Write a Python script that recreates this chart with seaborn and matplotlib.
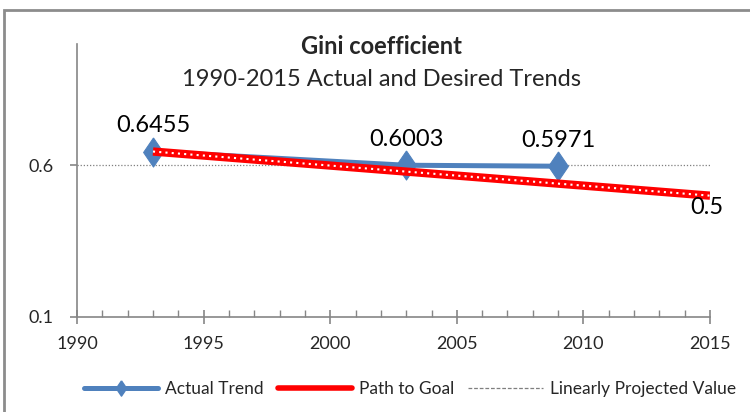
import pandas as pd
import matplotlib
matplotlib.use("Agg")
import matplotlib.pyplot as plt
from matplotlib.lines import Line2D
from matplotlib.patches import Rectangle
import seaborn as sns

# --- Data ---
actual_years = [1993, 2003, 2009]
actual_gini = [0.6455, 0.6003, 0.5971]
goal_years = [1993, 2015]
goal_gini = [0.6455, 0.5]
projected_years = []
projected_gini = []

x_ticks = [1990, 1995, 2000, 2005, 2010, 2015]
y_ticks = [0.1, 0.6]

blue = "#4F81BD"
red = "#FF0000"
axis_gray = "#868686"
# Excel-style tall diamond
diamond = [(0, 1), (0.68, 0), (0, -1), (-0.68, 0), (0, 1)]

sns.set_theme(style="white")
plt.rcParams["font.family"] = ["Lato", "DejaVu Sans"]

fig = plt.figure(figsize=(7.5, 4.12), dpi=100)
ax = fig.add_axes([0.1027, 0.2306, 0.844, 0.6626])

actual_df = pd.DataFrame({"Year": actual_years, "Gini": actual_gini})
goal_df = pd.DataFrame({"Year": goal_years, "Gini": goal_gini})

# gridline at 0.6
ax.axhline(0.6, color="#7f7f7f", lw=0.9, ls=(0, (1, 1.5)), zorder=1)

# path to goal: thick red with white dots
sns.lineplot(data=goal_df, x="Year", y="Gini", ax=ax, color=red, lw=6,
             solid_capstyle="butt", zorder=3)
sns.lineplot(data=goal_df, x="Year", y="Gini", ax=ax, color="white", lw=1.5,
             ls=(0, (1, 2)), zorder=4)
# actual trend
sns.lineplot(data=actual_df, x="Year", y="Gini", ax=ax, color=blue, lw=3.6,
             marker=diamond, markersize=21, markeredgecolor=blue, zorder=2)

# data labels
for x, y in zip(actual_years, actual_gini):
    ax.annotate(f"{y:.4f}", (x, y), xytext=(0, 11), textcoords="offset points",
                ha="center", va="bottom", fontsize=17, color="black")
ax.annotate(f"{goal_gini[-1]:g}", (goal_years[-1], goal_gini[-1]), xytext=(-2, -1),
            textcoords="offset points", ha="center", va="top", fontsize=17,
            color="black", annotation_clip=False)

ax.set_xlim(1990, 2015)
ax.set_ylim(0.1, 1.0)
ax.set_xticks(x_ticks)
ax.set_xticks(range(1990, 2016), minor=True)
ax.set_yticks(y_ticks)
ax.set_yticklabels([f"{v:g}" for v in y_ticks])
ax.set_xlabel("")
ax.set_ylabel("")

for side in ["top", "right"]:
    ax.spines[side].set_visible(False)
for side in ["left", "bottom"]:
    ax.spines[side].set_color(axis_gray)
    ax.spines[side].set_linewidth(1.2)
ax.tick_params(axis="x", which="major", direction="inout", length=10, width=1.2,
               color=axis_gray, labelsize=13, pad=9)
ax.tick_params(axis="x", which="minor", direction="in", length=5, width=1,
               color=axis_gray)
ax.tick_params(axis="y", which="major", direction="out", length=5, width=1.2,
               color=axis_gray, labelsize=13, pad=12)
ax.tick_params(bottom=True, left=True, which="both")

# titles
fig.text(381 / 750, 1 - 47 / 412, "Gini coefficient", ha="center", va="center",
         fontsize=17, fontweight="bold")
fig.text(381 / 750, 1 - 80 / 412, "1990-2015 Actual and Desired Trends",
         ha="center", va="center", fontsize=17)

# legend
handles = [
    Line2D([], [], color=blue, lw=3.6, marker=diamond, markersize=11),
    Line2D([], [], color=red, lw=4),
    Line2D(projected_years, projected_gini, color="#7f7f7f", lw=0.9, ls=(0, (3, 1.5))),
]
labels = ["Actual Trend", "Path to Goal", "Linearly Projected Value"]
fig.legend(handles, labels, loc="center left", bbox_to_anchor=(68 / 750, 1 - 389 / 412),
           ncol=3, frameon=False, fontsize=12.5, handlelength=4.3, handletextpad=0.4,
           columnspacing=0.8)

# chart border
fig.add_artist(Rectangle((0.005, -0.1), 1.2, 1.076, transform=fig.transFigure,
                         fill=False, edgecolor="#8c8c8c", lw=2))

fig.savefig("out.png", dpi=100)
